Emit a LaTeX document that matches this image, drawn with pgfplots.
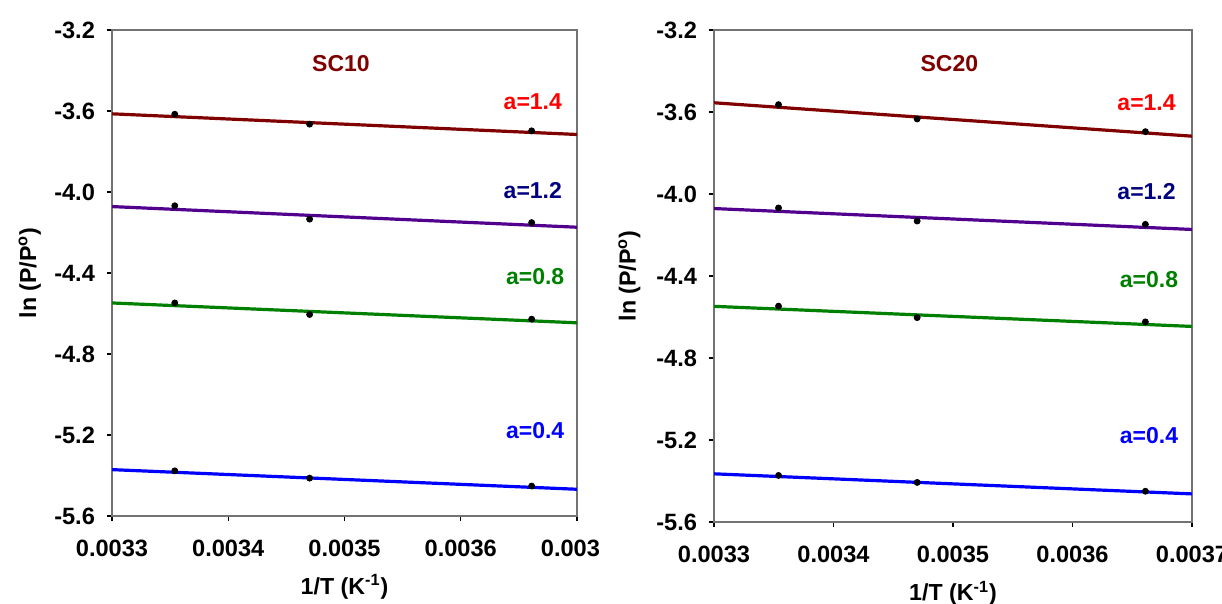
\documentclass[border=0pt]{standalone}
\usepackage{fontspec}
\setmainfont{Liberation Sans}
\usepackage{pgfplots}
\pgfplotsset{compat=1.18}

\definecolor{dred}{RGB}{128,0,0}
\definecolor{purp}{RGB}{80,0,140}
\definecolor{navyb}{RGB}{0,0,128}
\definecolor{grn}{RGB}{0,128,0}
\definecolor{blu}{RGB}{0,0,255}

\tikzset{ann/.style={font=\fontsize{11.5}{13}\selectfont\bfseries, anchor=center}}
\pgfplotsset{
  panel/.style={
    scale only axis,
    anchor=south west,
    xmin=0.0033, xmax=0.0037, ymin=-5.6, ymax=-3.2,
    scaled x ticks=false,
    xtick={0.0033,0.0034,0.0035,0.0036,0.0037},
    ytick={-5.6,-5.2,-4.8,-4.4,-4.0,-3.6,-3.2},
    yticklabels={-5.6,-5.2,-4.8,-4.4,-4.0,-3.6,-3.2},
    xtick pos=bottom, ytick pos=left,
    tick align=outside, major tick length=2.5pt,
    axis line style={black!55, line width=0.7pt},
    tick style={black, line width=0.6pt},
    ticklabel style={font=\fontsize{11.8}{13}\selectfont\bfseries},
    xticklabel style={yshift=-6pt},
    yticklabel style={xshift=-2.5pt},
    xlabel={1/T (K\textsuperscript{-1})},
    ylabel={ln (P/P\textsuperscript{o})},
    label style={font=\fontsize{11.6}{13}\selectfont\bfseries},
    xlabel style={at={(axis description cs:0.5,-0.145)}, anchor=center},
    ylabel style={at={(axis description cs:-0.177,0.5)}, anchor=center},
  },
  fitline/.style={no marks, line width=1.6pt},
  pts/.style={only marks, mark=*, mark size=1.5pt, black},
}

\begin{document}
\begin{tikzpicture}
  % SC10
  \begin{axis}[panel, at={(56pt,44pt)}, width=232.5pt, height=243pt,
      xticklabels={0.0033,0.0034,0.0035,0.0036,0.003\phantom{7}}]
    \addplot[fitline, dred] coordinates {(0.0033,-3.614) (0.0037,-3.716)};
    \addplot[fitline, purp] coordinates {(0.0033,-4.072) (0.0037,-4.174)};
    \addplot[fitline, grn]  coordinates {(0.0033,-4.548) (0.0037,-4.646)};
    \addplot[fitline, blu]  coordinates {(0.0033,-5.371) (0.0037,-5.468)};
    \addplot[pts] coordinates {(0.003354,-3.616) (0.003470,-3.665) (0.003661,-3.698)};
    \addplot[pts] coordinates {(0.003354,-4.068) (0.003470,-4.134) (0.003661,-4.151)};
    \addplot[pts] coordinates {(0.003354,-4.548) (0.003470,-4.605) (0.003661,-4.628)};
    \addplot[pts] coordinates {(0.003354,-5.377) (0.003470,-5.413) (0.003661,-5.452)};
    \node[ann, text=dred]  at (axis cs:0.003497,-3.366) {SC10};
    \node[ann, text=red]   at (axis cs:0.003662,-3.555) {a=1.4};
    \node[ann, text=navyb] at (axis cs:0.003662,-3.994) {a=1.2};
    \node[ann, text=grn]   at (axis cs:0.003664,-4.420) {a=0.8};
    \node[ann, text=blu]   at (axis cs:0.003664,-5.180) {a=0.4};
  \end{axis}
  % SC20
  \begin{axis}[panel, at={(357pt,41pt)}, width=239pt, height=246pt,
      xticklabels={0.0033,0.0034,0.0035,0.0036,0.0037}]
    \addplot[fitline, dred] coordinates {(0.0033,-3.555) (0.0037,-3.718)};
    \addplot[fitline, purp] coordinates {(0.0033,-4.071) (0.0037,-4.173)};
    \addplot[fitline, grn]  coordinates {(0.0033,-4.548) (0.0037,-4.646)};
    \addplot[fitline, blu]  coordinates {(0.0033,-5.365) (0.0037,-5.463)};
    \addplot[pts] coordinates {(0.003354,-3.564) (0.003470,-3.634) (0.003661,-3.696)};
    \addplot[pts] coordinates {(0.003354,-4.068) (0.003470,-4.132) (0.003661,-4.148)};
    \addplot[pts] coordinates {(0.003354,-4.547) (0.003470,-4.603) (0.003661,-4.624)};
    \addplot[pts] coordinates {(0.003354,-5.373) (0.003470,-5.407) (0.003661,-5.450)};
    \node[ann, text=dred]  at (axis cs:0.003497,-3.365) {SC20};
    \node[ann, text=red]   at (axis cs:0.003662,-3.553) {a=1.4};
    \node[ann, text=navyb] at (axis cs:0.003662,-3.990) {a=1.2};
    \node[ann, text=grn]   at (axis cs:0.003664,-4.417) {a=0.8};
    \node[ann, text=blu]   at (axis cs:0.003664,-5.178) {a=0.4};
  \end{axis}
  \pgfresetboundingbox
  \path[use as bounding box] (0,0) rectangle (611pt,302pt);
\end{tikzpicture}
\end{document}
